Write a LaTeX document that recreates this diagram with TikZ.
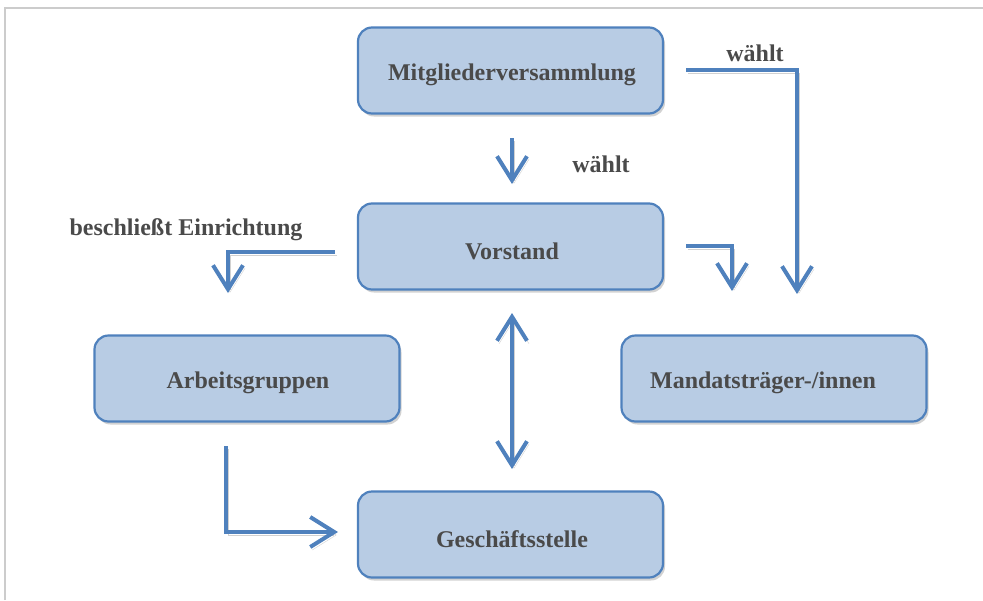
\documentclass[tikz,border=0pt]{standalone}
\usepackage{fontspec}
\setmainfont{Liberation Serif}
\usetikzlibrary{arrows.meta,shadows}
\definecolor{boxfill}{HTML}{B8CCE4}
\definecolor{boxline}{HTML}{4F81BD}
\definecolor{txt}{HTML}{4A4A4A}
\definecolor{frame}{HTML}{CCCCCC}
\tikzset{
  orgbox/.style={draw=boxline, line width=2.2pt, fill=boxfill, rounded corners=14pt,
    minimum width=305pt, minimum height=86pt, inner sep=0pt,
    font=\fontsize{24}{28}\selectfont\bfseries, text=txt,
    drop shadow={opacity=0.35, shadow xshift=2pt, shadow yshift=-3pt}},
  boxtext/.style={font=\fontsize{24}{28}\selectfont\bfseries, text=txt, inner sep=0pt},
  lbl/.style={font=\fontsize{24}{28}\selectfont\bfseries, text=txt, inner sep=0pt},
  tip/.style={Straight Barb[length=24pt,width=30pt,line width=4pt]},
  conn/.style={draw=boxline, line width=4pt, -{Straight Barb[length=24pt,width=30pt,line width=4pt]},
    preaction={draw=black, opacity=0.18, transform canvas={xshift=2pt,yshift=-3pt}}},
  conn2/.style={draw=boxline, line width=4pt,
    {Straight Barb[length=24pt,width=30pt,line width=4pt]}-{Straight Barb[length=24pt,width=30pt,line width=4pt]},
    preaction={draw=black, opacity=0.18, transform canvas={xshift=2pt,yshift=-3pt}}},
}
\begin{document}
\begin{tikzpicture}[x=1pt,y=-1pt]
\useasboundingbox (0,0) rectangle (983,600);
\fill[white] (0,0) rectangle (983,600);
\draw[frame, line width=2pt] (5,600) -- (5,8) -- (983,8);

\node[orgbox] (mv) at (510.5,70.5) {};
\node[orgbox] (vs) at (510.5,246.5) {};
\node[orgbox] (ag) at (247,378.5) {};
\node[orgbox] (ms) at (774,378.5) {};
\node[orgbox] (gs) at (510.5,534.5) {};
\node[boxtext] (tmv) at (512,75) {Mitgliederversammlung};
\node[boxtext] (tvs) at (512,251) {Vorstand};
\node[boxtext] (tag) at (248,383) {Arbeitsgruppen};
\node[boxtext] (tms) at (763,383) {Mandatsträger-/innen};
\node[boxtext] (tgs) at (512,539) {Geschäftsstelle};

\node[lbl] (l1) at (755,53) {wählt};
\node[lbl] (l2) at (601,164) {wählt};
\node[lbl] (l3) at (186,230) {beschließt Einrichtung};

\coordinate (a1s) at (512,138);
\coordinate (a1e) at (512,184);
\draw[conn] (a1s) -- (a1e);

\coordinate (a2s) at (686,70);
\coordinate (a2c) at (797,70);
\coordinate (a2e) at (797,294);
\draw[conn] (a2s) -- (a2c) -- (a2e);

\coordinate (a3s) at (686,246);
\coordinate (a3c) at (732,246);
\coordinate (a3e) at (732,291);
\draw[conn] (a3s) -- (a3c) -- (a3e);

\coordinate (a4s) at (335,252);
\coordinate (a4c) at (228,252);
\coordinate (a4e) at (228,293);
\draw[conn] (a4s) -- (a4c) -- (a4e);

\coordinate (a5s) at (512,313);
\coordinate (a5e) at (512,469);
\draw[conn2] (a5s) -- (a5e);

\coordinate (a6s) at (226,446);
\coordinate (a6c) at (226,532);
\coordinate (a6e) at (338,532);
\draw[conn] (a6s) -- (a6c) -- (a6e);
\end{tikzpicture}
\end{document}
